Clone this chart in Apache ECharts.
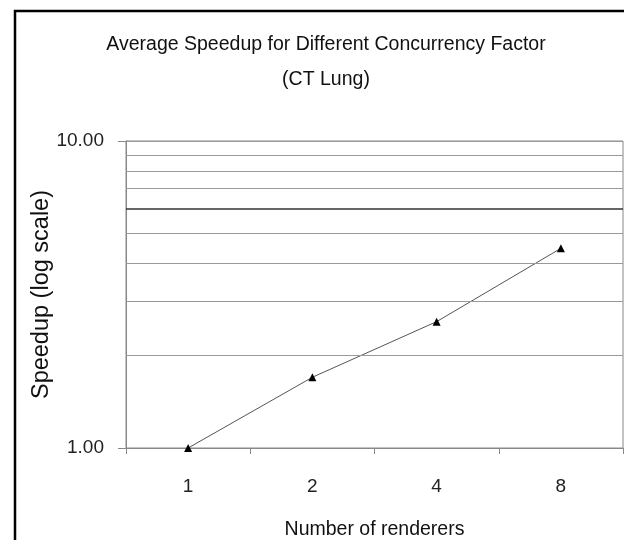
<!DOCTYPE html>
<html>
<head>
<meta charset="utf-8">
<script src="https://cdn.jsdelivr.net/npm/echarts@6/dist/echarts.min.js"></script>
<style>
  html, body { margin: 0; padding: 0; background: #fff; }
  #chart { width: 624px; height: 540px; }
</style>
</head>
<body>
<div id="chart"></div>
<script>
// data
var renderers = ['1', '2', '4', '8'];
var speedup = [1.00, 1.70, 2.58, 4.47];
// extra horizontal rules drawn between 1 and 10
var minorGrid = [2, 3, 4, 5, 6, 7, 8, 9];
var darkRule = 6;

var font = '"Liberation Sans", Arial, sans-serif';

var chart = echarts.init(document.getElementById('chart'));

var ruleData = minorGrid.map(function (v) {
    return {
        yAxis: v,
        lineStyle: v === darkRule
            ? { color: '#333', width: 1.5, type: 'solid' }
            : { color: '#999', width: 1, type: 'solid' }
    };
});

var option = {
    backgroundColor: '#fff',
    animation: false,
    title: {
        text: 'Average Speedup for Different Concurrency Factor\n(CT Lung)',
        left: 321,
        top: 22,
        textAlign: 'center',
        textStyle: {
            fontFamily: font,
            fontSize: 19.5,
            fontWeight: 'normal',
            color: '#111',
            lineHeight: 35
        }
    },
    graphic: [{
        type: 'rect',
        shape: { x: 15, y: 11, width: 700, height: 600 },
        style: { fill: null, stroke: '#000', lineWidth: 2.5 },
        silent: true
    }],
    grid: {
        left: 126,
        right: 1,
        top: 141,
        bottom: 92,
        outerBoundsMode: 'none',
        containLabel: false,
        show: true,
        borderColor: '#888',
        borderWidth: 1
    },
    xAxis: {
        type: 'category',
        data: renderers,
        boundaryGap: true,
        name: 'Number of renderers',
        nameLocation: 'middle',
        nameGap: 82,
        nameMoveOverlap: false,
        nameTextStyle: {
            fontFamily: font,
            fontSize: 19.5,
            color: '#111',
            verticalAlign: 'middle'
        },
        axisLine: { lineStyle: { color: '#888', width: 1 } },
        axisTick: { show: true, length: 6, lineStyle: { color: '#888' } },
        axisLabel: {
            margin: 29,
            fontFamily: font,
            fontSize: 19,
            color: '#222'
        },
        splitLine: { show: false }
    },
    yAxis: {
        type: 'log',
        logBase: 10,
        min: 1,
        max: 10,
        name: 'Speedup (log scale)',
        nameLocation: 'middle',
        nameGap: 84,
        nameMoveOverlap: false,
        nameRotate: 90,
        nameTextStyle: {
            fontFamily: font,
            fontSize: 23.5,
            color: '#111',
            verticalAlign: 'middle'
        },
        axisLine: { show: true, lineStyle: { color: '#888', width: 1 } },
        axisTick: { show: true, length: 8, lineStyle: { color: '#888' } },
        axisLabel: {
            margin: 22,
            fontFamily: font,
            fontSize: 19,
            color: '#222',
            formatter: function (v) { return v.toFixed(2); }
        },
        splitLine: { show: true, lineStyle: { color: '#999', width: 1 } }
    },
    series: [{
        type: 'line',
        data: speedup,
        symbol: 'triangle',
        symbolSize: 8,
        itemStyle: { color: '#000' },
        lineStyle: { color: '#555', width: 1 },
        markLine: {
            silent: true,
            symbol: ['none', 'none'],
            label: { show: false },
            data: ruleData
        }
    }]
};

chart.setOption(option);
</script>
</body>
</html>
